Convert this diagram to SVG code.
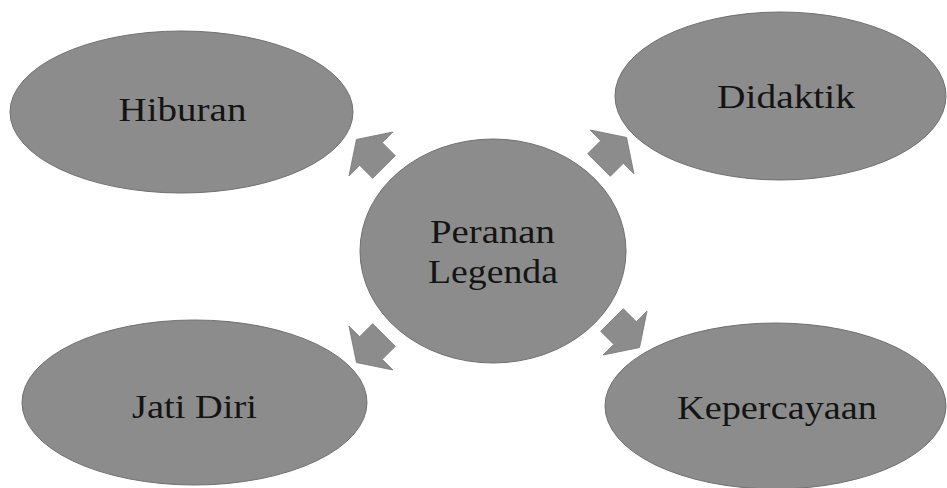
<svg xmlns="http://www.w3.org/2000/svg" xmlns:xlink="http://www.w3.org/1999/xlink" width="947" height="488" viewBox="0 0 947 488">
<style>
.shape{fill:#8c8c8c;stroke:#707070;stroke-width:1}
.arrow{fill:#8c8c8c;stroke:#7a7a7a;stroke-width:0.8}
.lbl{font-family:"Liberation Serif","Times New Roman",serif;font-size:34px;fill:#141414;text-anchor:middle}
</style>
<defs>
<path id="arr" d="M22,0 L1.5,31 L1.5,16 L-17,16 L-17,-16 L1.5,-16 L1.5,-31 Z"/>
</defs>
<rect width="947" height="488" fill="#ffffff"/>
<g id="connectors">
<use xlink:href="#arr" href="#arr" class="arrow" transform="translate(372,155) rotate(-135)"/>
<use xlink:href="#arr" href="#arr" class="arrow" transform="translate(611,153) rotate(-45)"/>
<use xlink:href="#arr" href="#arr" class="arrow" transform="translate(372,347) rotate(135)"/>
<use xlink:href="#arr" href="#arr" class="arrow" transform="translate(624,332) rotate(45)"/>
</g>
<g id="node-hiburan">
<ellipse class="shape" cx="181.5" cy="112" rx="171.5" ry="81"/>
<text class="lbl" x="182.5" y="121" textLength="128" lengthAdjust="spacingAndGlyphs">Hiburan</text>
</g>
<g id="node-didaktik">
<ellipse class="shape" cx="780.5" cy="96" rx="165.5" ry="84"/>
<text class="lbl" x="786" y="108" textLength="138" lengthAdjust="spacingAndGlyphs">Didaktik</text>
</g>
<g id="node-jatidiri">
<ellipse class="shape" cx="194.5" cy="402.5" rx="172.5" ry="82.5"/>
<text class="lbl" x="194.5" y="418" textLength="125" lengthAdjust="spacingAndGlyphs">Jati Diri</text>
</g>
<g id="node-kepercayaan">
<ellipse class="shape" cx="775.5" cy="406" rx="170.5" ry="83"/>
<text class="lbl" x="777" y="419" textLength="200" lengthAdjust="spacingAndGlyphs">Kepercayaan</text>
</g>
<g id="node-center">
<ellipse class="shape" cx="493" cy="251" rx="133" ry="112"/>
<text class="lbl" x="492.5" y="243" textLength="125" lengthAdjust="spacingAndGlyphs">Peranan</text>
<text class="lbl" x="493" y="283" textLength="130" lengthAdjust="spacingAndGlyphs">Legenda</text>
</g>
</svg>
